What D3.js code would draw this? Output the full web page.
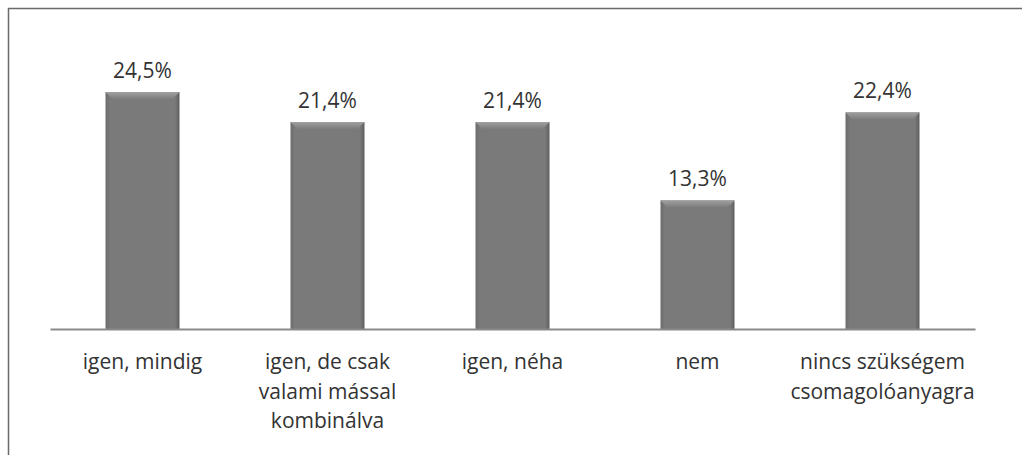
<!DOCTYPE html>
<html>
<head>
<meta charset="utf-8">
<script src="https://cdn.jsdelivr.net/npm/d3@7"></script>
<style>
  body { margin: 0; background: #fff; }
  svg { display: block; }
  text { font-family: "Open Sans", sans-serif; fill: #333; }
</style>
</head>
<body>
<svg id="chart" width="1022" height="455"></svg>
<script>
// data
const categories = [
  ["igen, mindig"],
  ["igen, de csak", "valami mással", "kombinálva"],
  ["igen, néha"],
  ["nem"],
  ["nincs szükségem", "csomagolóanyagra"]
];
const values = [24.5, 21.4, 21.4, 13.3, 22.4];
const valueLabels = ["24,5%", "21,4%", "21,4%", "13,3%", "22,4%"];

const width = 1022, height = 455;
const baseY = 329;
const left = 50, right = 975;

const svg = d3.select("#chart");

// frame (top + left lines)
svg.append("line").attr("x1", 8).attr("x2", width).attr("y1", 8.5).attr("y2", 8.5)
  .attr("stroke", "#6a6a6a").attr("stroke-width", 1.5);
svg.append("line").attr("x1", 8.5).attr("x2", 8.5).attr("y1", 8).attr("y2", height)
  .attr("stroke", "#6a6a6a").attr("stroke-width", 1.5);

// scales
const idx = d3.range(values.length);
const x = d3.scaleBand().domain(idx).range([left, right]).paddingInner(0.6).paddingOuter(0.3);
const y = d3.scaleLinear().domain([0, 30]).range([baseY, baseY - 30 * 9.67]);

// gradients
const defs = svg.append("defs");
const hg = defs.append("linearGradient").attr("id", "hg");
hg.append("stop").attr("offset", "0%").attr("stop-color", "#6c6c6c");
hg.append("stop").attr("offset", "6%").attr("stop-color", "#7a7a7a");
hg.append("stop").attr("offset", "94%").attr("stop-color", "#7a7a7a");
hg.append("stop").attr("offset", "100%").attr("stop-color", "#5e5e5e");
const tg = defs.append("linearGradient").attr("id", "tg").attr("x1", 0).attr("x2", 0).attr("y1", 0).attr("y2", 1);
tg.append("stop").attr("offset", "0%").attr("stop-color", "#a0a0a0");
tg.append("stop").attr("offset", "100%").attr("stop-color", "#7c7c7c");

const bars = svg.append("g").selectAll("g").data(values).join("g");

bars.append("rect")
  .attr("x", (d, i) => x(i))
  .attr("y", d => y(d))
  .attr("width", x.bandwidth())
  .attr("height", d => baseY - y(d))
  .attr("fill", "url(#hg)");

// bevel on top
bars.append("path")
  .attr("d", (d, i) => {
    const x0 = x(i), x1 = x(i) + x.bandwidth(), t = y(d), b = 7;
    return `M${x0},${t}L${x1},${t}L${x1 - b},${t + b}L${x0 + b},${t + b}Z`;
  })
  .attr("fill", "url(#tg)");

// value labels
svg.append("g").selectAll("text").data(values).join("text")
  .attr("x", (d, i) => x(i) + x.bandwidth() / 2)
  .attr("y", d => y(d) - 14)
  .attr("text-anchor", "middle")
  .attr("font-size", 21)
  .text((d, i) => valueLabels[i]);

// axis line
const xAxis = d3.axisBottom(x).tickSize(0).tickFormat("");
const ax = svg.append("g").attr("transform", `translate(0,${baseY})`).call(xAxis);
ax.select(".domain").attr("stroke", "#8a8a8a").attr("stroke-width", 2);

// category labels
const cat = svg.append("g").selectAll("text").data(categories).join("text")
  .attr("x", (d, i) => x(i) + x.bandwidth() / 2)
  .attr("y", 369)
  .attr("text-anchor", "middle")
  .attr("font-size", 21);
cat.selectAll("tspan").data(d => d).join("tspan")
  .attr("x", function () { return this.parentNode.getAttribute("x"); })
  .attr("dy", (d, j) => j === 0 ? 0 : 29.5)
  .text(d => d);
</script>
</body>
</html>
